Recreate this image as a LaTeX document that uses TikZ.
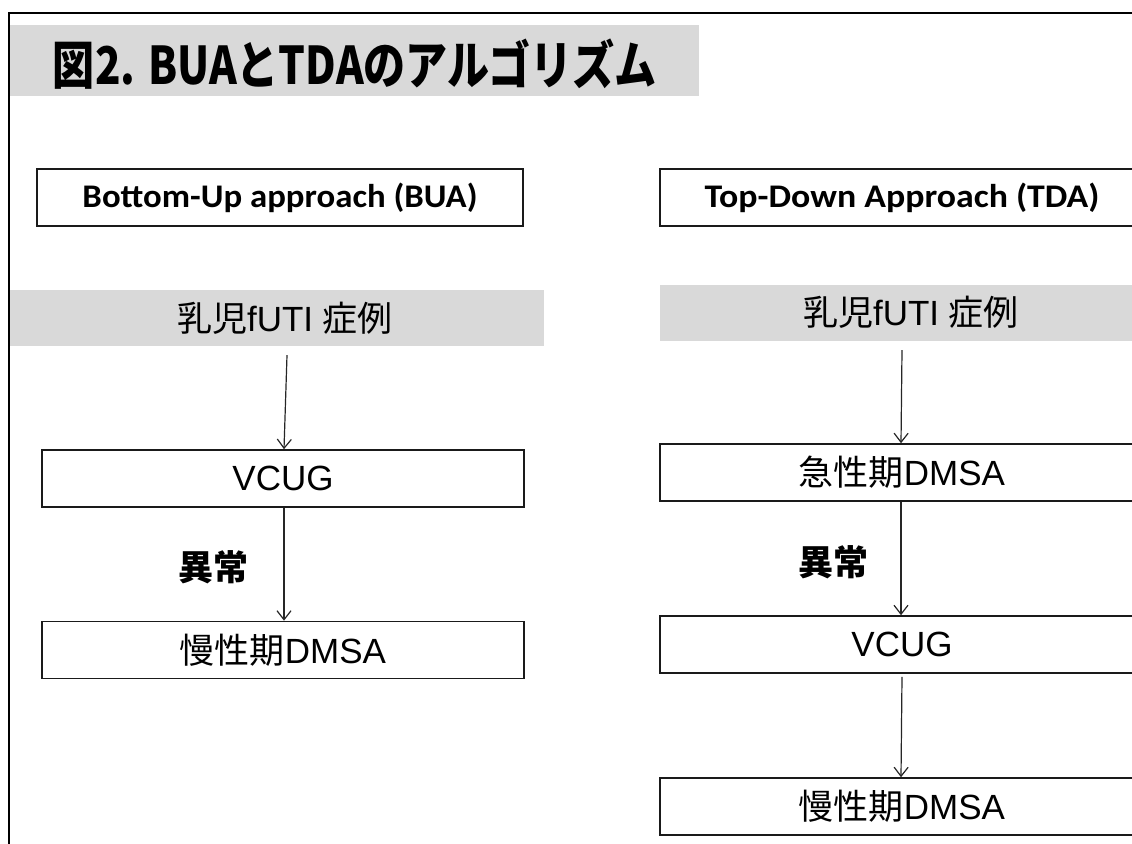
\documentclass[tikz,border=0pt]{standalone}
\usepackage{fontspec}
\usepackage{graphicx}
\setmainfont{Liberation Sans}
\newfontfamily\cjk{Noto Sans CJK JP}
\newfontfamily\hdrfont{Carlito}
\usetikzlibrary{arrows.meta}
\definecolor{bandgray}{HTML}{D9D9D9}
\definecolor{boxline}{HTML}{1A1A1A}
\begin{document}
\begin{tikzpicture}[x=1pt,y=-1pt,
  box/.style={draw=boxline,line width=1.6pt,fill=white,inner sep=0pt,minimum height=57pt,font=\fontsize{35}{40}\selectfont},
  hdrbox/.style={box,font=\hdrfont\bfseries\fontsize{33}{40}\selectfont},
  band/.style={fill=bandgray,inner sep=0pt,minimum height=56pt},
  lbl/.style={inner sep=0pt,font=\fontsize{35}{40}\selectfont},
  abn/.style={inner sep=0pt,font=\cjk\bfseries\fontsize{35}{40}\selectfont},
  arr/.style={draw=black!85,line width=1.2pt,-{Straight Barb[length=9pt,width=14pt,line width=1.2pt]}}]
\useasboundingbox (0,0) rectangle (1132,843);
\clip (0,0) rectangle (1132,843);
% frame
\draw[line width=2pt,black] (9,850) -- (9,13) -- (1140,13);
% title
\node[band,minimum width=689pt,minimum height=71pt] (titleband) at (354.5,60.5) {};
\node[inner sep=0pt,font=\cjk\bfseries\fontsize{52}{60}\selectfont] (title) at (355,64) {\resizebox{604pt}{\height}{図2. BUAとTDAのアルゴリズム}};
% left column
\node[hdrbox,minimum width=486pt] (hdrL) at (280,197.5) {\resizebox{395pt}{\height}{Bottom-Up approach (BUA)}};
\node[band,minimum width=534pt] (bandL) at (277,318) {};
\node[lbl] (caseL) at (285,318) {{\cjk 乳児}fUTI {\cjk 症例}};
\node[box,minimum width=482pt] (vcugL) at (283,478.5) {VCUG};
\node[box,minimum width=482pt] (dmsaL) at (283,650) {{\cjk 慢性期}DMSA};
\node[abn] (abnL) at (213,567) {異常};
\draw[arr] ([xshift=10pt,yshift=-9pt]bandL.south) -- ([xshift=1pt]vcugL.north);
\draw[arr] ([xshift=1pt]vcugL.south) -- ([xshift=1pt]dmsaL.north);
% right column
\node[hdrbox,minimum width=484pt] (hdrR) at (902,197.5) {\resizebox{395pt}{\height}{Top-Down Approach (TDA)}};
\node[band,minimum width=484pt] (bandR) at (902,312.5) {};
\node[lbl] (caseR) at (911,312.5) {{\cjk 乳児}fUTI {\cjk 症例}};
\node[box,minimum width=484pt] (acuteR) at (902,472.5) {{\cjk 急性期}DMSA};
\node[box,minimum width=484pt] (vcugR) at (902,644.5) {VCUG};
\node[box,minimum width=484pt] (dmsaR) at (902,806.5) {{\cjk 慢性期}DMSA};
\node[abn] (abnR) at (833,562) {異常};
\draw[arr] ([yshift=-9.5pt]bandR.south) -- ([xshift=-1pt]acuteR.north);
\draw[arr] ([xshift=-1pt]acuteR.south) -- ([xshift=-1pt]vcugR.north);
\draw[arr] ([yshift=-3pt]vcugR.south) -- ([xshift=-1pt]dmsaR.north);
\end{tikzpicture}
\end{document}
